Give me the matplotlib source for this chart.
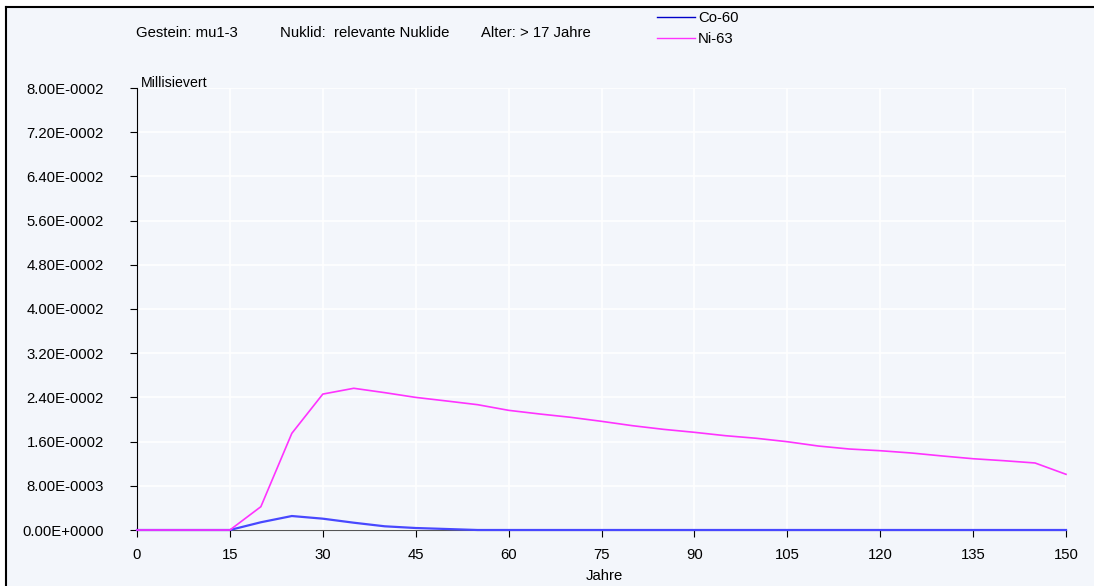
import numpy as np
import matplotlib.pyplot as plt
from matplotlib.lines import Line2D

plt.rcParams['font.family'] = ['Liberation Sans', 'DejaVu Sans']

# Jahre (5-Jahres-Schritte)
jahre = list(range(0, 155, 5))

co60 = [0, 0, 0, 0, 0.0014, 0.00253, 0.00205, 0.00132, 0.00067, 0.00036,
        0.00018, 0, 0, 0, 0, 0, 0, 0, 0, 0, 0, 0, 0, 0, 0, 0, 0, 0, 0, 0, 0]
ni63 = [0, 0, 0, 0, 0.00422, 0.0175, 0.0246, 0.02565, 0.02486, 0.0240,
        0.02335, 0.02268, 0.02166, 0.0210, 0.0204, 0.01967, 0.01888, 0.01822,
        0.01768, 0.01707, 0.0166, 0.01598, 0.0152, 0.01466, 0.01435, 0.01394,
        0.0134, 0.0129, 0.01254, 0.01213, 0.01008]

x_ticks = list(range(0, 151, 15))
y_ticks = [i * 0.008 for i in range(11)]

bg = '#f3f6fb'
fs = 10.7

fig = plt.figure(figsize=(10.94, 5.86), dpi=100, facecolor='white')
# hellblauer Hintergrund mit schwarzem Rand oben/links
fig.patches.append(plt.Rectangle((6 / 1094, 0), 1, 1 - 7 / 586, transform=fig.transFigure,
                                 facecolor=bg, edgecolor='none', zorder=-5))
fig.add_artist(Line2D([6 / 1094, 1], [1 - 7 / 586, 1 - 7 / 586], color='black', lw=1.5))
fig.add_artist(Line2D([6 / 1094, 6 / 1094], [0, 1 - 7 / 586], color='black', lw=1.5))

ax = fig.add_axes([137 / 1094, 1 - 530 / 586, 929 / 1094, 442 / 586])
ax.set_facecolor(bg)

ax.plot(jahre, co60, color='#4848ff', lw=1.6, zorder=3, clip_on=False)
ax.plot(jahre, ni63, color='#ff33ff', lw=1.2, zorder=4, clip_on=False)

ax.set_xlim(0, 150)
ax.set_ylim(0, 0.08)
ax.set_xticks(x_ticks)
ax.set_yticks(y_ticks)


def fmt(v):
    if v == 0:
        return '0.00E+0000'
    e = int(np.floor(np.log10(v)))
    m = v / 10 ** e
    return f'{m:.2f}E-{abs(e):04d}'


ax.set_yticklabels([fmt(v) for v in y_ticks])
ax.grid(True, color='white', lw=1.2)
ax.set_axisbelow(True)
for s in ['top', 'right']:
    ax.spines[s].set_visible(False)
ax.spines['left'].set_color('black')
ax.spines['bottom'].set_color('#555555')
ax.tick_params(axis='y', length=5, pad=19, labelsize=fs, colors='black')
ax.tick_params(axis='x', length=5, pad=8, labelsize=fs, colors='black')

fig.text(141 / 1094, 1 - 83 / 586, 'Millisievert', fontsize=fs - 0.5, va='center', ha='left')
fig.text(604 / 1094, 1 - 576 / 586, 'Jahre', fontsize=fs, va='center', ha='center')

fig.text(136 / 1094, 1 - 33 / 586, 'Gestein: mu1-3', fontsize=fs, va='center')
fig.text(280 / 1094, 1 - 33 / 586, 'Nuklid:  relevante Nuklide', fontsize=fs, va='center')
fig.text(481 / 1094, 1 - 33 / 586, 'Alter: > 17 Jahre', fontsize=fs, va='center')

# Legende
for yy, col, name in [(17, '#0000c8', 'Co-60'), (38, '#ff33ff', 'Ni-63')]:
    fig.add_artist(Line2D([657 / 1094, 695 / 1094], [1 - yy / 586, 1 - yy / 586], color=col, lw=1))
    fig.text(698 / 1094, 1 - (yy + 1) / 586, name, fontsize=fs, va='center')

fig.savefig('out.png', dpi=100, facecolor=fig.get_facecolor())
